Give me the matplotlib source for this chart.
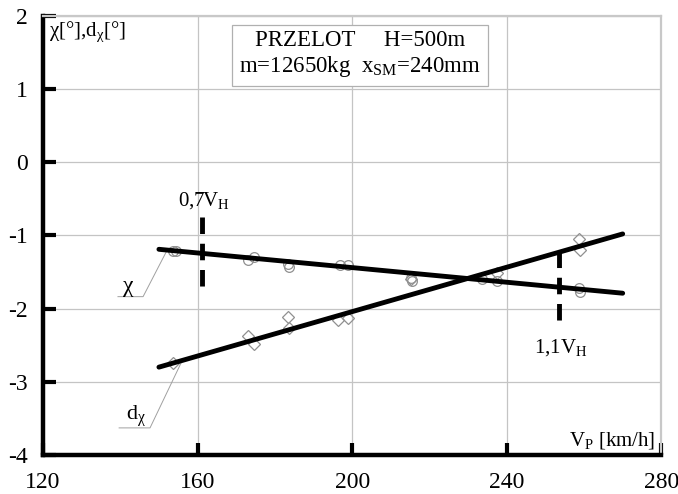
import numpy as np
import matplotlib
matplotlib.use("Agg")
import matplotlib.pyplot as plt

plt.rcParams['font.family'] = ['Liberation Serif', 'DejaVu Serif']
plt.rcParams['mathtext.fontset'] = 'custom'
plt.rcParams['mathtext.rm'] = 'Liberation Serif'
plt.rcParams['mathtext.it'] = 'Liberation Serif'
plt.rcParams['axes.unicode_minus'] = False

# measured points - chi (circles)
chi_v = [153.6, 154.5, 173.0, 174.7, 183.4, 183.6, 196.8, 198.9, 215.3, 215.5, 233.7, 237.4, 258.7, 258.9]
chi_val = [-1.22, -1.21, -1.33, -1.30, -1.39, -1.43, -1.40, -1.40, -1.58, -1.62, -1.59, -1.62, -1.72, -1.77]
# measured points - d_chi (diamonds)
dchi_v = [153.6, 173.0, 174.7, 183.4, 183.6, 196.3, 198.9, 215.3, 237.4, 258.7, 258.9]
dchi_val = [-2.75, -2.37, -2.48, -2.12, -2.27, -2.16, -2.13, -1.60, -1.52, -1.05, -1.20]

# fitted lines (end points)
fit_v = [150, 270]
chi_fit = [-1.19, -1.79]
dchi_fit = [-2.80, -0.98]

# 0,7 VH and 1,1 VH markers
vh_x = [161.2, 253.4]
vh_y0 = [-0.75, -1.22]
vh_y1 = [-1.71, -2.22]
vh_lab = ['0,7V$_\\mathrm{H}$', '1,1V$_\\mathrm{H}$']
vh_lab_y = [-0.52, -2.53]

xticks = [120, 160, 200, 240, 280]
yticks = [2, 1, 0, -1, -2, -3, -4]

fig = plt.figure(figsize=(6.78, 4.94), dpi=100)
ax = fig.add_axes([0.0634, 0.079, 0.912, 0.889])

ax.set_xlim(120, 280)
ax.set_ylim(-4, 2)
ax.set_xticks(xticks)
ax.set_yticks(yticks)
ax.set_xticklabels([str(t) for t in xticks])
ax.set_yticklabels([str(t) for t in yticks])
ax.tick_params(direction='in', length=9, width=3, labelsize=17)
ax.tick_params(axis='x', pad=12)
ax.tick_params(axis='y', pad=11)
ax.grid(True, color='#c4c4c4', lw=0.9)
ax.set_axisbelow(True)

for s in ['left', 'bottom']:
    ax.spines[s].set_linewidth(3.2)
    ax.spines[s].set_color('black')
for s in ['top', 'right']:
    ax.spines[s].set_linewidth(1.6)
    ax.spines[s].set_color('#c8c8c8')

ax.plot(chi_v, chi_val, 'o', mfc='none', mec='#909090', ms=7, mew=0.9, zorder=3)
ax.plot(dchi_v, dchi_val, 'D', mfc='none', mec='#909090', ms=6, mew=0.9, zorder=3)

ax.plot(fit_v, chi_fit, color='black', lw=3.5, solid_capstyle='round', zorder=4)
ax.plot(fit_v, dchi_fit, color='black', lw=3.5, solid_capstyle='round', zorder=4)

for x, y0, y1, lab, ly in zip(vh_x, vh_y0, vh_y1, vh_lab, vh_lab_y):
    ax.plot([x, x], [y0, y1], color='black', lw=3.5, dashes=(3.4, 2.0), zorder=5)
    ax.text(x + 0.5, ly, lab, fontsize=15, ha='center', va='center')

# leader lines for curve labels
ax.plot([139.4, 145.9, 151.9], [-1.837, -1.837, -1.224], color='#a0a0a0', lw=0.7)
ax.text(142, -1.70, 'χ', fontsize=17, ha='center', va='center')
ax.plot([139.7, 147.7, 155.8], [-3.63, -3.63, -2.735], color='#a0a0a0', lw=0.7)
ax.text(144, -3.47, 'd$_\\mathrm{χ}$', fontsize=16, ha='center', va='center')

ax.text(121.5, 1.78, 'χ[°],d$_\\mathrm{χ}$[°]', fontsize=15, ha='left', va='center')
ax.text(278.5, -3.8, 'V$_\\mathrm{P}$ [km/h]', fontsize=15, ha='right', va='center')

ax.text(202, 1.47, 'PRZELOT     H=500m\nm=12650kg  x$_\\mathrm{SM}$=240mm',
        fontsize=16.5, ha='center', va='center', linespacing=1.2,
        bbox=dict(boxstyle='square,pad=0.3', fc='white', ec='#b0b0b0', lw=0.9))

fig.savefig('out.png', dpi=100)
